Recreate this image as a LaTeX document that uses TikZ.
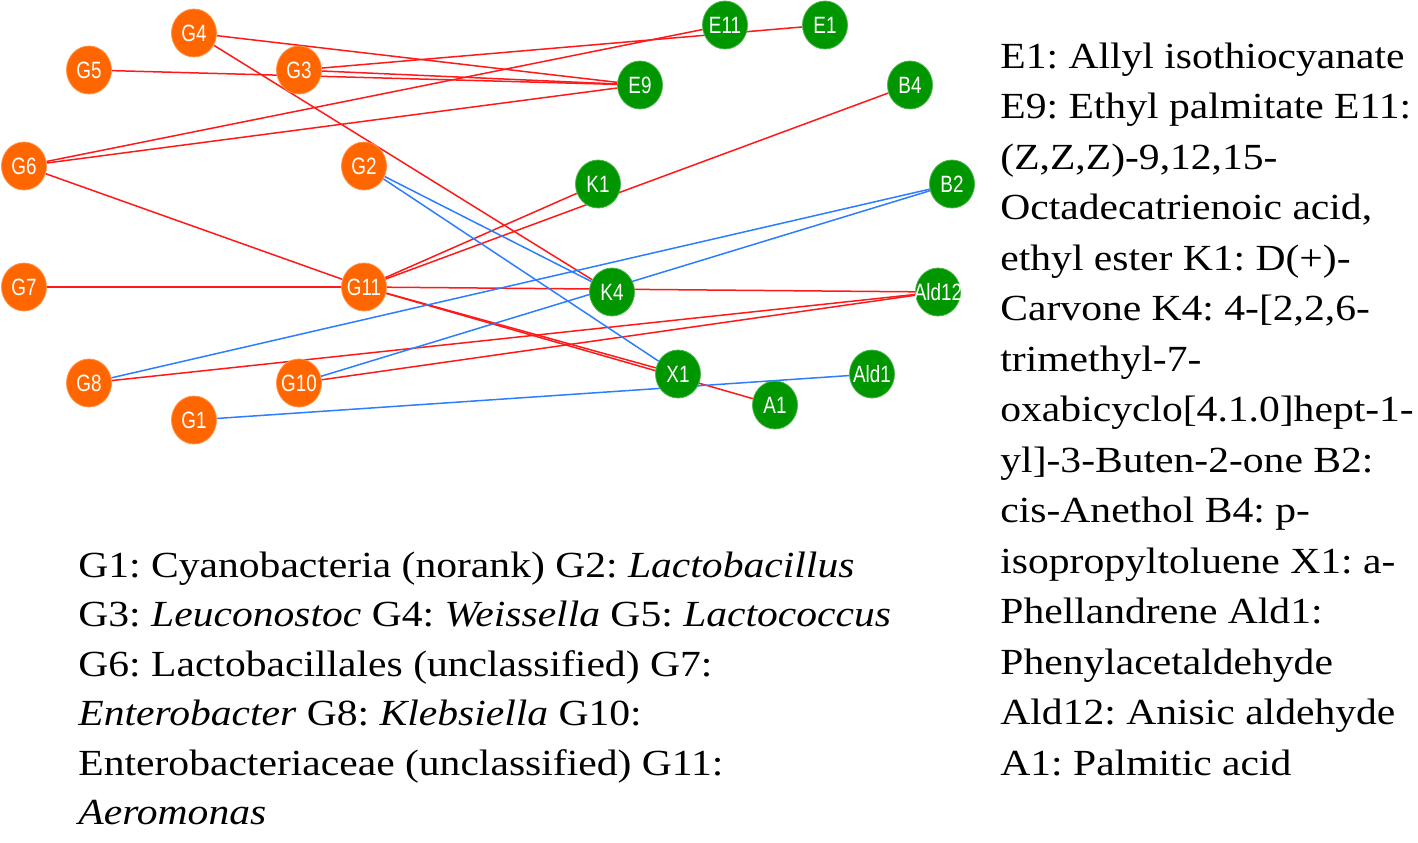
\documentclass[tikz,border=0pt]{standalone}
\usepackage{fontspec}
\setmainfont[FakeStretch=1.13]{Liberation Serif}
\newfontfamily\labelfont[FakeStretch=0.8]{Liberation Sans}
\usetikzlibrary{shapes.geometric,backgrounds}

\definecolor{genuscol}{RGB}{255,102,0}
\definecolor{volcol}{RGB}{0,150,0}
\definecolor{poscol}{RGB}{255,25,25}
\definecolor{negcol}{RGB}{45,125,255}

\begin{document}
\frenchspacing
\begin{tikzpicture}[
	x=0.5pt, y=-0.5pt,
	nodetext/.style={text=white, inner sep=0pt, font=\labelfont\fontsize{11.8}{12}\selectfont},
	gnode/.style={ellipse, fill=genuscol, draw=genuscol!70!white, line width=0.4pt,
		minimum width=22.5pt, minimum height=24pt, inner sep=0pt,
		label={[nodetext]center:#1}},
	vnode/.style={gnode=#1, fill=volcol, draw=volcol!70!white},
	poslink/.style={poscol, line width=0.75pt},
	neglink/.style={negcol, line width=0.75pt},
	keyline/.style={anchor=base west, inner sep=0pt, font=\fontsize{18.4}{20}\selectfont}
	]

	\useasboundingbox (0,0) rectangle (1418,842);

	% genera
	\node[gnode=G4] (G4) at (194,33) {};
	\node[gnode=G5] (G5) at (89,70) {};
	\node[gnode=G3] (G3) at (299,70) {};
	\node[gnode=G6] (G6) at (24,166) {};
	\node[gnode=G2] (G2) at (364,166) {};
	\node[gnode=G7] (G7) at (24,287) {};
	\node[gnode=G11] (G11) at (364,287) {};
	\node[gnode=G8] (G8) at (89,383) {};
	\node[gnode=G10] (G10) at (299,383) {};
	\node[gnode=G1] (G1) at (194,420) {};

	% volatiles
	\node[vnode=E11] (E11) at (725,25) {};
	\node[vnode=E1] (E1) at (825,25) {};
	\node[vnode=E9] (E9) at (640,85) {};
	\node[vnode=B4] (B4) at (910,85) {};
	\node[vnode=K1] (K1) at (598,184) {};
	\node[vnode=B2] (B2) at (952,184) {};
	\node[vnode=K4] (K4) at (612,292) {};
	\node[vnode=Ald12] (Ald12) at (938,292) {};
	\node[vnode=X1] (X1) at (678,374) {};
	\node[vnode=Ald1] (Ald1) at (872,374) {};
	\node[vnode=A1] (A1) at (775,405) {};

	\begin{scope}[on background layer]
		\draw[poslink] (G4) -- (E9);
		\draw[poslink] (G4) -- (K4);
		\draw[poslink] (G5) -- (E9);
		\draw[poslink] (G3) -- (E9);
		\draw[poslink] (G3) -- (E1);
		\draw[poslink] (G6) -- (E11);
		\draw[poslink] (G6) -- (E9);
		\draw[poslink] (G6) -- (G11);
		\draw[poslink] (G7) -- (G11);
		\draw[poslink] (G11) -- (Ald12);
		\draw[poslink] (G11) -- (K1);
		\draw[poslink] (G11) -- (B4);
		\draw[poslink] (G11) -- (X1);
		\draw[poslink] (G11) -- (A1);
		\draw[poslink] (G8) -- (Ald12);
		\draw[poslink] (G10) -- (Ald12);
		\draw[neglink] (G2) -- (K4);
		\draw[neglink] (G2) -- (X1);
		\draw[neglink] (G8) -- (B2);
		\draw[neglink] (G10) -- (B2);
		\draw[neglink] (G1) -- (Ald1);
	\end{scope}

	% key to the volatiles
	\node[keyline] (vk1) at (1000,68) {E1: Allyl isothiocyanate};
	\node[keyline] (vk2) at (1000,118.5) {E9: Ethyl palmitate E11:};
	\node[keyline] (vk3) at (1000,169) {(Z,Z,Z)-9,12,15-};
	\node[keyline] (vk4) at (1000,219.5) {Octadecatrienoic acid,};
	\node[keyline] (vk5) at (1000,270) {ethyl ester K1: D(+)-};
	\node[keyline] (vk6) at (1000,320.5) {Carvone K4: 4-[2,2,6-};
	\node[keyline] (vk7) at (1000,371) {trimethyl-7-};
	\node[keyline] (vk8) at (1000,421.5) {oxabicyclo[4.1.0]hept-1-};
	\node[keyline] (vk9) at (1000,472) {yl]-3-Buten-2-one B2:};
	\node[keyline] (vk10) at (1000,522.5) {cis-Anethol B4: p-};
	\node[keyline] (vk11) at (1000,573) {isopropyltoluene X1: a-};
	\node[keyline] (vk12) at (1000,623.5) {Phellandrene Ald1:};
	\node[keyline] (vk13) at (1000,674) {Phenylacetaldehyde};
	\node[keyline] (vk14) at (1000,724.5) {Ald12: Anisic aldehyde};
	\node[keyline] (vk15) at (1000,775) {A1: Palmitic acid};

	% key to the genera
	\node[keyline] (gk1) at (78,577) {G1: Cyanobacteria (norank) G2: \textit{Lactobacillus}};
	\node[keyline] (gk2) at (78,626.5) {G3: \textit{Leuconostoc} G4: \textit{Weissella} G5: \textit{Lactococcus}};
	\node[keyline] (gk3) at (78,676) {G6: Lactobacillales (unclassified) G7:};
	\node[keyline] (gk4) at (78,725.5) {\textit{Enterobacter} G8: \textit{Klebsiella} G10:};
	\node[keyline] (gk5) at (78,775) {Enterobacteriaceae (unclassified) G11:};
	\node[keyline] (gk6) at (78,824.5) {\textit{Aeromonas}};

\end{tikzpicture}
\end{document}
